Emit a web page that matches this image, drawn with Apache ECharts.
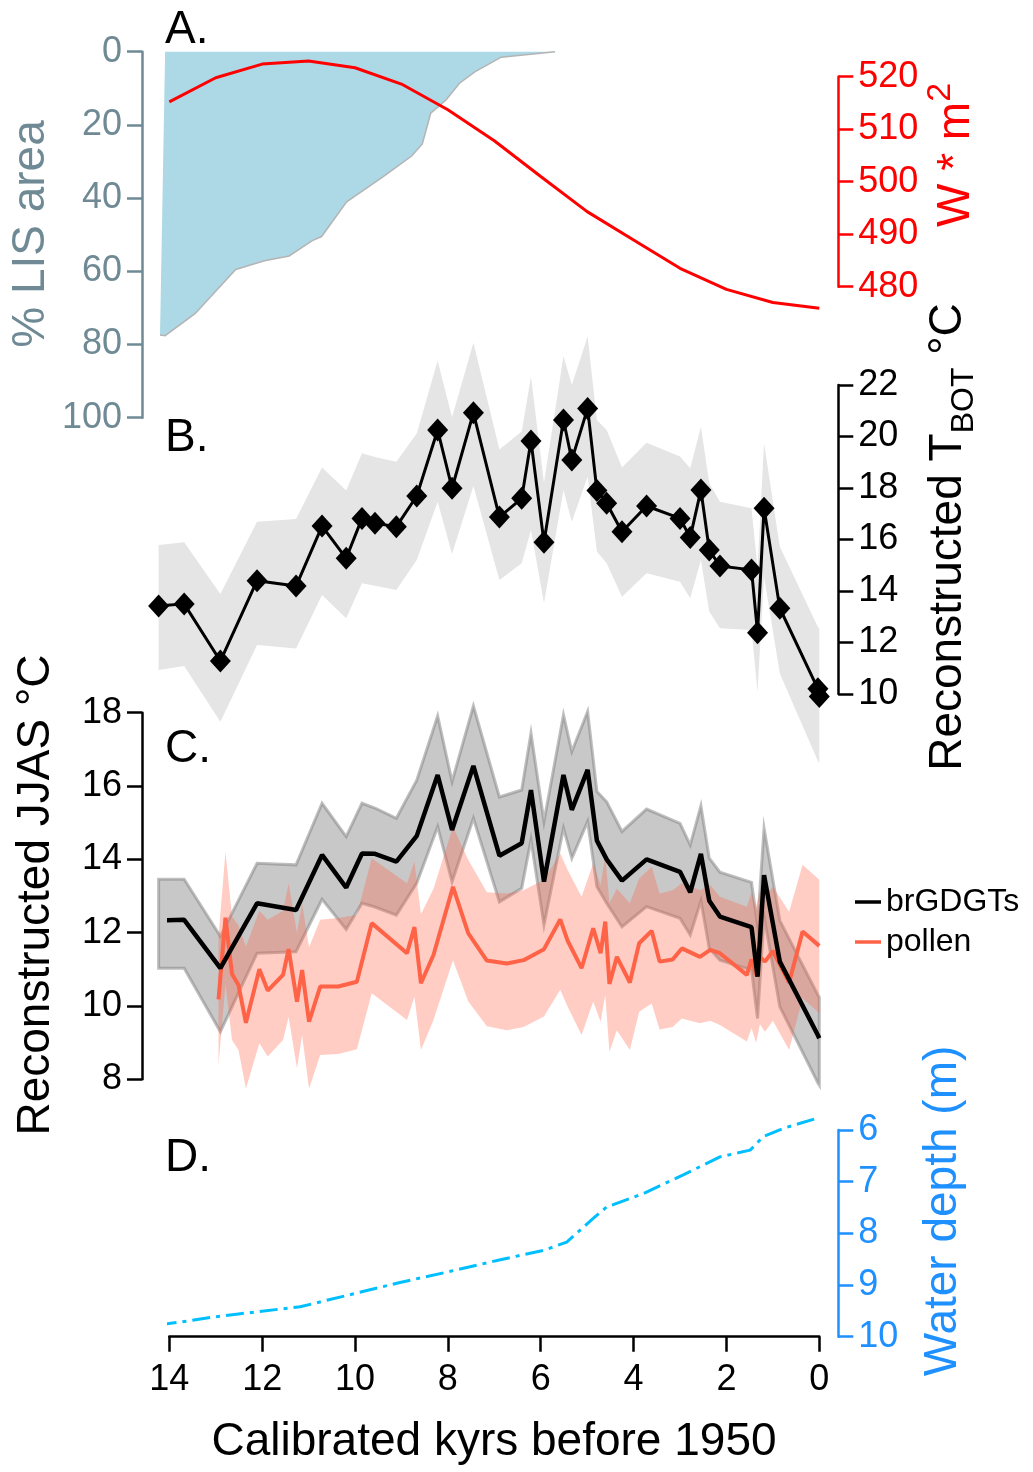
<!DOCTYPE html>
<html>
<head>
<meta charset="utf-8">
<title>Holocene temperature reconstruction</title>
<script src="https://cdn.jsdelivr.net/npm/echarts@6/dist/echarts.min.js"></script>
<style>
  html, body { margin: 0; padding: 0; background: #fff; }
  #chart { width: 1033px; height: 1472px; }
</style>
</head>
<body>
<div id="chart"></div>
<script>
  // A. Laurentide ice sheet area (% of max), outline starts at the 0 % top-left corner
  const lisAge = [14.09, 14.2, 14.09, 13.44, 12.57, 11.95, 11.42, 10.92, 10.72, 10.18, 9.4, 8.78, 8.55, 8.37, 8.04, 7.75, 7.42, 6.85, 5.69]
  const lisArea = [0, 77.4, 77.6, 71.5, 59.5, 57.1, 55.8, 51.6, 50.5, 41.0, 34.2, 28.5, 25.2, 16.8, 13.2, 8.6, 5.5, 1.5, 0]
  // A. summer insolation
  const insAge = [14, 13, 12, 11, 10, 9, 8, 7, 6, 5, 4, 3, 2, 1, 0]
  const insolation = [515.2, 519.8, 522.4, 523.0, 521.7, 518.6, 513.7, 507.8, 501.0, 494.3, 488.9, 483.5, 479.5, 477.0, 475.9]

  // B. / C. brGDGT samples
  const gdgtAge = [14.23, 13.68, 12.90, 12.11, 11.27, 10.71, 10.19, 9.85, 9.57, 9.11, 8.67, 8.22, 7.91, 7.45, 6.89, 6.41, 6.21, 5.93,
    5.51, 5.33, 4.99, 4.79, 4.58, 4.25, 3.72, 3.00, 2.78, 2.55, 2.37, 2.14, 1.46, 1.33, 1.19, 0.85, 0.03, 0.00]
  const tbot = [13.42, 13.50, 11.28, 14.40, 14.19, 16.52, 15.27, 16.82, 16.63, 16.50, 17.69, 20.25, 17.99, 20.92, 16.87, 17.60, 19.83, 15.89,
    20.64, 19.09, 21.09, 17.90, 17.41, 16.30, 17.30, 16.82, 16.08, 17.92, 15.59, 14.97, 14.82, 12.38, 17.21, 13.33, 10.20, 9.90]
  const tbotHi = [15.79, 15.89, 13.88, 16.69, 16.80, 18.80, 17.90, 19.35, 19.20, 19.02, 20.12, 22.94, 20.75, 23.64, 19.50, 20.19, 22.32, 18.20,
    23.13, 22.00, 23.88, 20.64, 20.25, 18.80, 19.76, 19.22, 18.77, 20.38, 18.18, 17.47, 17.21, 14.90, 19.74, 15.72, 12.60, 12.55]
  const tbotLo = [10.93, 11.09, 8.92, 11.90, 11.77, 13.84, 12.94, 14.30, 14.20, 14.04, 15.20, 17.47, 15.44, 18.08, 14.43, 15.08, 16.37, 13.52,
    17.92, 16.69, 18.44, 15.53, 15.08, 13.78, 14.69, 14.36, 13.72, 15.20, 13.20, 12.55, 12.49, 10.09, 14.56, 10.80, 7.40, 7.31]
  const jjas = [12.33, 12.35, 11.03, 12.80, 12.62, 14.12, 13.23, 14.16, 14.15, 13.94, 14.64, 16.30, 14.80, 16.55, 14.10, 14.44, 15.89, 13.39,
    16.30, 15.35, 16.44, 14.51, 14.00, 13.42, 14.00, 13.66, 13.10, 14.15, 12.87, 12.44, 12.15, 10.80, 13.57, 11.21, 9.20, 9.12]
  const jjasHi = [13.46, 13.46, 11.90, 13.89, 13.85, 15.53, 14.62, 15.53, 15.40, 15.12, 16.16, 17.91, 16.12, 18.18, 15.70, 15.89, 17.44, 15.03,
    17.94, 16.94, 18.03, 15.85, 15.57, 14.76, 15.37, 14.98, 14.39, 15.46, 14.03, 13.65, 13.37, 12.20, 14.85, 12.33, 10.30, 10.24]
  const jjasLo = [11.03, 11.03, 9.30, 11.44, 11.48, 12.91, 12.09, 12.80, 12.70, 12.48, 13.35, 14.89, 13.39, 15.12, 12.84, 13.21, 14.53, 12.21,
    14.85, 14.03, 15.03, 13.25, 12.80, 12.16, 12.71, 12.39, 11.94, 12.87, 11.57, 11.25, 10.98, 9.66, 12.44, 9.98, 7.90, 7.84]

  // C. pollen samples
  const pollenAge = [12.94, 12.79, 12.65, 12.51, 12.35, 12.06, 11.88, 11.55, 11.43, 11.25, 11.14, 10.99, 10.75, 10.36, 9.96, 9.64, 8.88, 8.72,
    8.58, 8.31, 7.89, 7.56, 7.16, 6.73, 6.37, 5.93, 5.58, 5.42, 5.12, 4.87, 4.71, 4.61, 4.52, 4.36, 4.08, 3.88, 3.61, 3.44,
    3.16, 2.96, 2.57, 2.35, 2.14, 1.56, 1.46, 1.36, 1.28, 1.17, 1.00, 0.65, 0.36, 0.00]
  const pollen = [10.18, 12.41, 10.87, 10.57, 9.54, 11.00, 10.42, 10.85, 11.55, 10.12, 10.98, 9.57, 10.53, 10.53, 10.66, 12.26, 11.44, 12.15,
    10.62, 11.39, 13.25, 11.98, 11.24, 11.16, 11.25, 11.55, 12.36, 11.78, 11.03, 12.12, 11.44, 12.30, 10.60, 11.34, 10.64, 11.71, 12.05, 11.21,
    11.27, 11.57, 11.34, 11.53, 11.44, 10.85, 11.27, 10.85, 11.34, 11.21, 11.50, 10.64, 12.03, 11.64]
  const pollenHi = [11.90, 14.21, 12.44, 12.20, 11.62, 12.60, 12.35, 12.60, 13.35, 12.00, 12.80, 11.60, 12.35, 12.40, 12.48, 14.03, 13.35, 13.94,
    12.50, 13.20, 14.89, 13.98, 13.10, 13.07, 13.16, 13.44, 14.16, 13.71, 12.98, 13.89, 13.30, 14.12, 12.80, 13.20, 12.80, 13.48, 13.80, 13.07,
    13.16, 13.35, 13.16, 13.30, 12.98, 12.71, 13.10, 12.70, 13.10, 13.00, 13.25, 12.57, 13.85, 13.44]
  const pollenLo = [8.39, 10.60, 9.07, 8.80, 7.75, 8.98, 8.62, 9.07, 9.70, 8.30, 9.20, 7.75, 8.66, 8.69, 8.82, 10.35, 9.62, 10.25,
    8.80, 9.62, 11.25, 10.12, 9.45, 9.34, 9.43, 9.71, 10.44, 9.98, 9.21, 10.12, 9.57, 10.30, 8.75, 9.34, 8.80, 9.84, 10.07, 9.36,
    9.43, 9.66, 9.53, 9.60, 9.48, 9.03, 9.40, 9.00, 9.50, 9.30, 9.60, 8.80, 10.21, 9.80]

  // D. water depth
  const depthAge = [14.23, 13.62, 13.05, 12.51, 11.18, 10.03, 9.03, 8.02, 6.87, 5.94, 5.44, 4.87, 4.58, 3.79, 2.93, 2.14, 1.49, 1.21, 0.78, 0.00]
  const depth = [9.77, 9.70, 9.62, 9.56, 9.42, 9.17, 8.95, 8.75, 8.51, 8.33, 8.17, 7.71, 7.49, 7.23, 6.87, 6.52, 6.39, 6.13, 5.97, 5.76]

  const FONT = '"Liberation Sans", Arial, Helvetica, sans-serif'
  const SLATE = '#6F8A95'
  const BLUE = '#1E90FF'

  function pairs(xs, ys) {
    return xs.map((x, i) => [x, ys[i]])
  }

  // filled band between hi and lo, drawn as one polygon through the axes
  function band(idx, ages, hi, lo, style, z) {
    return {
      type: 'custom',
      xAxisIndex: idx,
      yAxisIndex: idx,
      data: [[ages[0], hi[0]]],
      clip: false,
      silent: true,
      z: z,
      renderItem: function(params, api) {
        let pts = []
        for (let i = 0; i < ages.length; i++) pts.push(api.coord([ages[i], hi[i]]))
        for (let i = ages.length - 1; i >= 0; i--) pts.push(api.coord([ages[i], lo[i]]))
        return { type: 'polygon', shape: { points: pts }, style: style }
      }
    }
  }

  function yAx(grid, pos, min, max, interval, color, inverse) {
    return {
      gridIndex: grid,
      type: 'value',
      position: pos,
      offset: pos === 'left' ? 27.3 : 19,
      min: min,
      max: max,
      interval: interval,
      inverse: !!inverse,
      axisLine: { show: true, onZero: false, lineStyle: { color: color, width: 2.5 } },
      axisTick: { show: true, length: 15, lineStyle: { color: color, width: 2.5 } },
      axisLabel: { fontSize: 36, color: color, margin: 20, fontFamily: FONT },
      splitLine: { show: false }
    }
  }

  function rotTitle(x, y, text, color, rich) {
    let style = { text: text, fill: color, font: '46px ' + FONT, fontSize: 46, fontFamily: FONT,
      textAlign: 'center', textVerticalAlign: 'middle', align: 'center', verticalAlign: 'middle' }
    if (rich) style.rich = rich
    return { type: 'text', x: x, y: y, rotation: Math.PI / 2, style: style }
  }

  function panelLabel(y, text) {
    return { type: 'text', x: 165, y: y, style: { text: text, fill: '#000', font: '46px ' + FONT,
      textAlign: 'left', textVerticalAlign: 'middle', align: 'left', verticalAlign: 'middle' } }
  }

  const gridPos = [
    { top: 51.7, height: 366 },
    { top: 76.7, height: 210 },
    { top: 385, height: 309 },
    { top: 712.7, height: 366.6 },
    { top: 1130, height: 206.7 }
  ]

  const option = {
    animation: false,
    backgroundColor: '#fff',
    textStyle: { fontFamily: FONT },
    grid: gridPos.map(g => Object.assign({ left: 169.3, width: 650, outerBoundsMode: 'none', containLabel: false }, g)),
    xAxis: gridPos.map((g, i) => ({
      gridIndex: i,
      type: 'value',
      min: 0,
      max: 14,
      interval: 2,
      inverse: true,
      show: i === 4,
      axisLine: { onZero: false, lineStyle: { color: '#000', width: 2.5 } },
      axisTick: { length: 15, lineStyle: { color: '#000', width: 2.5 } },
      axisLabel: { fontSize: 36, color: '#000', margin: 25, fontFamily: FONT },
      splitLine: { show: false }
    })),
    yAxis: [
      yAx(0, 'left', 0, 100, 20, SLATE, true),
      yAx(1, 'right', 480, 520, 10, 'red'),
      yAx(2, 'right', 10, 22, 2, '#000'),
      yAx(3, 'left', 8, 18, 2, '#000'),
      yAx(4, 'right', 6, 10, 1, BLUE, true)
    ],
    legend: {
      data: ['brGDGTs', 'pollen'],
      orient: 'vertical',
      left: 850,
      top: 881,
      icon: 'rect',
      itemWidth: 26,
      itemHeight: 3.5,
      itemGap: 8,
      textStyle: { fontSize: 32, lineHeight: 32, color: '#000', fontFamily: FONT }
    },
    series: [
      {
        // ice sheet area: filled polygon plus grey outline along its lower edge
        type: 'custom',
        xAxisIndex: 0,
        yAxisIndex: 0,
        data: [[lisAge[0], lisArea[0]]],
        clip: false,
        silent: true,
        z: 1,
        renderItem: function(params, api) {
          let pts = lisAge.map((a, i) => api.coord([a, lisArea[i]]))
          return {
            type: 'group',
            children: [
              { type: 'polygon', shape: { points: pts }, style: { fill: '#ADD8E6' } },
              { type: 'polyline', shape: { points: pts.slice(1) }, style: { stroke: '#B4B4B4', lineWidth: 1.5, fill: null } }
            ]
          }
        }
      },
      {
        type: 'line',
        xAxisIndex: 1,
        yAxisIndex: 1,
        data: pairs(insAge, insolation),
        showSymbol: false,
        clip: false,
        z: 3,
        lineStyle: { color: 'red', width: 3 }
      },
      band(2, gdgtAge, tbotHi, tbotLo, { fill: '#E5E5E5' }, 1),
      {
        type: 'line',
        xAxisIndex: 2,
        yAxisIndex: 2,
        data: pairs(gdgtAge, tbot),
        symbol: 'diamond',
        symbolSize: [21, 23],
        showSymbol: true,
        clip: false,
        z: 3,
        itemStyle: { color: '#000' },
        lineStyle: { color: '#000', width: 3 }
      },
      band(3, gdgtAge, jjasHi, jjasLo, { fill: 'rgba(128,128,128,0.43)', stroke: 'rgba(128,128,128,0.5)', lineWidth: 3 }, 1),
      band(3, pollenAge, pollenHi, pollenLo, { fill: 'rgba(255,99,71,0.32)' }, 2),
      {
        name: 'pollen',
        type: 'line',
        xAxisIndex: 3,
        yAxisIndex: 3,
        data: pairs(pollenAge, pollen),
        showSymbol: false,
        clip: false,
        z: 3,
        itemStyle: { color: '#FF6347' },
        lineStyle: { color: '#FF6347', width: 4 }
      },
      {
        name: 'brGDGTs',
        type: 'line',
        xAxisIndex: 3,
        yAxisIndex: 3,
        data: pairs(gdgtAge, jjas),
        showSymbol: false,
        clip: false,
        z: 4,
        itemStyle: { color: '#000' },
        lineStyle: { color: '#000', width: 4.5 }
      },
      {
        type: 'line',
        xAxisIndex: 4,
        yAxisIndex: 4,
        data: pairs(depthAge, depth),
        showSymbol: false,
        clip: false,
        z: 3,
        lineStyle: { color: '#00BFFF', width: 3, type: [18, 6, 4, 6] }
      }
    ],
    graphic: [
      panelLabel(30, 'A.'),
      panelLabel(438, 'B.'),
      panelLabel(749, 'C.'),
      panelLabel(1158, 'D.'),
      rotTitle(31, 234, '% LIS area', SLATE),
      rotTitle(36, 895, 'Reconstructed JJAS °C', '#000'),
      rotTitle(956, 155, '{a|W * m}{s|2}', 'red', {
        a: { fontSize: 46, fontFamily: FONT, lineHeight: 64, verticalAlign: 'middle' },
        s: { fontSize: 34, fontFamily: FONT, lineHeight: 27, verticalAlign: 'top' }
      }),
      rotTitle(948, 537, '{a|Reconstructed T}{s|BOT}{a| °C}', '#000', {
        a: { fontSize: 46, fontFamily: FONT, lineHeight: 64, verticalAlign: 'middle' },
        s: { fontSize: 32, fontFamily: FONT, lineHeight: 38, verticalAlign: 'bottom' }
      }),
      rotTitle(943, 1211, 'Water depth (m)', BLUE),
      {
        type: 'text', x: 494, y: 1442,
        style: { text: 'Calibrated kyrs before 1950', fill: '#000', font: '46px ' + FONT,
          textAlign: 'center', textVerticalAlign: 'middle', align: 'center', verticalAlign: 'middle' }
      }
    ]
  }

  const chart = echarts.init(document.getElementById('chart'))
  chart.setOption(option)
</script>
</body>
</html>
